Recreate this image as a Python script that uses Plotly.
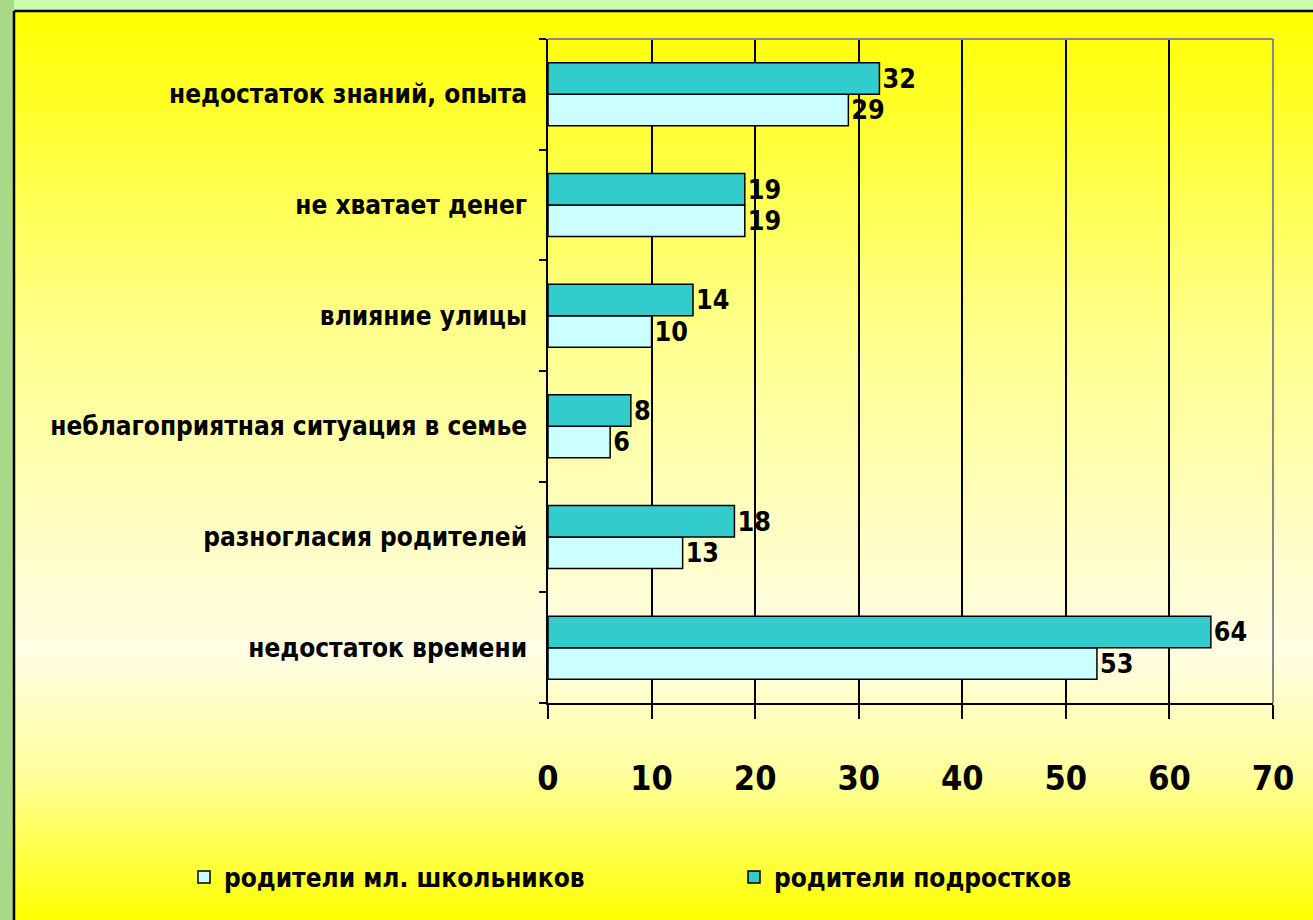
import base64
import struct
import zlib

import plotly.graph_objects as go

# ---------------- data (bottom-to-top order of the chart) ----------------
categories = [
    "недостаток времени",
    "разногласия родителей",
    "неблагоприятная ситуация в семье",
    "влияние улицы",
    "не хватает денег",
    "недостаток знаний, опыта",
]
series_names = ["родители мл. школьников", "родители подростков"]
young_values = [53, 13, 6, 10, 19, 29]
teen_values = [64, 18, 8, 14, 19, 32]
x_ticks = [0, 10, 20, 30, 40, 50, 60, 70]

# ---------------- geometry ----------------
W, H = 1313, 920
L, R, T, B = 548, 40, 39, 217
PW, PH = W - L - R, H - T - B


def px_x(p):
    return (p - L) / PW


def px_y(p):
    return (H - B - p) / PH


# ---------------- background gradient image ----------------
stops = [
    (11, (255, 255, 0)),
    (330, (255, 255, 140)),
    (650, (255, 253, 228)),
    (770, (255, 255, 160)),
    (920, (255, 255, 0)),
]


def color_at(y):
    for (y0, c0), (y1, c1) in zip(stops[:-1], stops[1:]):
        if y0 <= y <= y1:
            t = (y - y0) / (y1 - y0)
            return tuple(int(round(a + (b - a) * t)) for a, b in zip(c0, c1))
    return stops[-1][1]


def make_png(rows):
    raw = b"".join(b"\x00" + bytes(c) for c in rows)

    def chunk(tag, data):
        return (struct.pack(">I", len(data)) + tag + data
                + struct.pack(">I", zlib.crc32(tag + data) & 0xFFFFFFFF))

    return (b"\x89PNG\r\n\x1a\n"
            + chunk(b"IHDR", struct.pack(">IIBBBBB", 1, len(rows), 8, 2, 0, 0, 0))
            + chunk(b"IDAT", zlib.compress(raw))
            + chunk(b"IEND", b""))


rows = [color_at(y) for y in range(11, H)]
grad_uri = "data:image/png;base64," + base64.b64encode(make_png(rows)).decode()

FONT = "Liberation Sans Narrow, Arial Narrow, DejaVu Sans Condensed, sans-serif"

fig = go.Figure()
fig.add_trace(go.Bar(
    y=categories, x=young_values, name=series_names[0], orientation="h",
    marker=dict(color="#ccffff", line=dict(color="black", width=1.5)),
    text=young_values, textposition="outside", cliponaxis=False,
    textfont=dict(family=FONT, size=33, color="black", weight="bold"),
))
fig.add_trace(go.Bar(
    y=categories, x=teen_values, name=series_names[1], orientation="h",
    marker=dict(color="#33cccc", line=dict(color="black", width=1.5)),
    text=teen_values, textposition="outside", cliponaxis=False,
    textfont=dict(family=FONT, size=33, color="black", weight="bold"),
))

shapes = [
    # left darker green strip
    dict(type="rect", xref="paper", yref="paper", layer="below",
         x0=px_x(0), x1=px_x(14), y0=px_y(0), y1=px_y(H),
         fillcolor="#a9d88a", line=dict(width=0)),
    # black border of yellow panel
    dict(type="line", xref="paper", yref="paper", layer="above",
         x0=px_x(14), x1=px_x(W + 5), y0=px_y(11), y1=px_y(11),
         line=dict(color="black", width=2.5)),
    dict(type="line", xref="paper", yref="paper", layer="above",
         x0=px_x(14), x1=px_x(14), y0=px_y(11), y1=px_y(H + 5),
         line=dict(color="black", width=2.5)),
    # gray plot-area border top and right
    dict(type="line", xref="paper", yref="paper", layer="above",
         x0=0, x1=1, y0=1, y1=1, line=dict(color="#888888", width=2)),
    dict(type="line", xref="paper", yref="paper", layer="above",
         x0=1, x1=1, y0=0, y1=1, line=dict(color="#888888", width=2)),
]

fig.update_layout(
    width=W, height=H,
    margin=dict(l=L, r=R, t=T, b=B, pad=0),
    paper_bgcolor="#ccfcaa",
    plot_bgcolor="rgba(0,0,0,0)",
    barmode="group", bargap=0.43, bargroupgap=0,
    font=dict(family=FONT, color="black"),
    showlegend=True,
    legend=dict(
        orientation="h", x=px_x(184), y=px_y(877), xanchor="left", yanchor="middle",
        font=dict(family=FONT, size=26, color="black", weight="bold"),
        bgcolor="rgba(0,0,0,0)", entrywidth=505, entrywidthmode="pixels",
        itemwidth=30, traceorder="normal",
    ),
    images=[dict(
        source=grad_uri, xref="paper", yref="paper",
        x=px_x(14), y=px_y(11), sizex=(W - 14) / PW, sizey=(H - 11) / PH,
        xanchor="left", yanchor="top", sizing="stretch", layer="below",
    )],
    shapes=shapes,
    xaxis=dict(
        range=[0, 70], tickvals=x_ticks, ticktext=[str(v) for v in x_ticks],
        showgrid=True, gridcolor="black", gridwidth=1.5,
        zeroline=False, showline=True, linecolor="black", linewidth=1.5,
        ticks="outside", ticklen=14, tickwidth=1.5, tickcolor="black",
        ticklabelstandoff=30,
        tickfont=dict(family=FONT, size=34, color="black", weight="bold"),
    ),
    yaxis=dict(
        categoryorder="array", categoryarray=categories,
        showgrid=False, zeroline=False, showline=True, linecolor="black", linewidth=1.5,
        ticks="outside", ticklen=7, tickwidth=1.5, tickcolor="black", tickson="boundaries",
        ticklabelstandoff=14,
        tickfont=dict(family=FONT, size=26, color="black", weight="bold"),
    ),
)

fig.write_html(
    "out.html",
    config={"displayModeBar": False},
    post_script="document.body.style.margin='0';document.body.style.padding='0';"
                "document.body.style.overflow='hidden';",
)
